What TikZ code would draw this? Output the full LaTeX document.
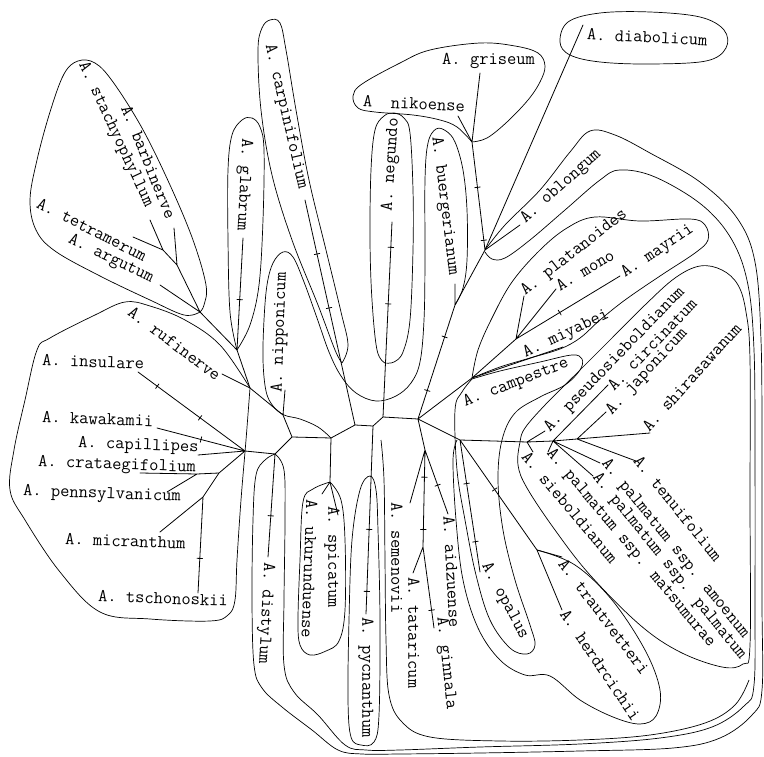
\documentclass[tikz,border=0pt]{standalone}
\usetikzlibrary{calc}
\newcommand{\tkk}[3]{\draw[br] ($(#1)!#3!(#2)!2.8pt!90:(#2)$) -- ($(#1)!#3!(#2)!2.8pt!-90:(#2)$);}
\begin{document}
\begin{tikzpicture}[x=1pt,y=-1pt,
  br/.style={line width=0.8pt, line cap=round, line join=round},
  bd/.style={line width=0.7pt, line join=round},
  lab/.style={font=\fontsize{18}{18}\selectfont\ttfamily, inner sep=0pt, anchor=west}]
\fill[white] (0,0) rectangle (764,757);
\useasboundingbox (0,0) rectangle (764,757);

% ---------- internal nodes ----------
\coordinate (nTS) at (163,250);
\coordinate (nBa) at (177,265);
\coordinate (nArg) at (200,312);
\coordinate (nGl) at (237,350);
\coordinate (nR) at (250,388);
\coordinate (nN) at (283,415);
\coordinate (n1) at (292,437);
\coordinate (nD) at (275,454);
\coordinate (nL) at (245,451);
\coordinate (nCr) at (219,473);
\coordinate (nPe) at (197,474);
\coordinate (nTs) at (203,497);
\coordinate (n2) at (331,438);
\coordinate (nSU) at (330,482);
\coordinate (n3) at (355,425);
\coordinate (n4) at (373,426);
\coordinate (n5) at (383,417);
\coordinate (n6) at (418,419);
\coordinate (nA) at (425,450);
\coordinate (nTG) at (423,547);
\coordinate (nB) at (455,305);
\coordinate (nO) at (485,250);
\coordinate (nG) at (472,142);
\coordinate (n7) at (472,378);
\coordinate (nP) at (516,339);
\coordinate (n8) at (460,440);
\coordinate (nS) at (527,442);
\coordinate (nPa) at (553,441);
\coordinate (nJ) at (577,439);
\coordinate (nT) at (537,550);

% ---------- tips ----------
\coordinate (tBarb) at (174,228);
\coordinate (tStach) at (150,220);
\coordinate (tTetra) at (133,237);
\coordinate (tArgu) at (160,285);
\coordinate (tRufi) at (222,374);
\coordinate (tIns) at (138,372);
\coordinate (tKawa) at (157,428);
\coordinate (tCapi) at (198,455);
\coordinate (tCrat) at (140,473);
\coordinate (tPenn) at (167,492);
\coordinate (tMicr) at (160,532);
\coordinate (tTsch) at (198,593);
\coordinate (tGlab) at (243,238);
\coordinate (tCarp) at (305,200);
\coordinate (tNipp) at (285,390);
\coordinate (tDist) at (268,557);
\coordinate (tUkur) at (322,494);
\coordinate (tSpic) at (338,515);
\coordinate (tPycn) at (366,614);
\coordinate (tNegu) at (392,222);
\coordinate (tBuer) at (455,284);
\coordinate (tGris) at (480,73);
\coordinate (tNiko) at (458,116);
\coordinate (tDiab) at (583,25);
\coordinate (tOblo) at (520,225);
\coordinate (tPlat) at (524,296);
\coordinate (tMono) at (556,289);
\coordinate (tMayr) at (620,276);
\coordinate (tMiya) at (563,347);
\coordinate (tSemen) at (410,503);
\coordinate (tAidz) at (448,514);
\coordinate (tTata) at (413,573);
\coordinate (tGinn) at (434,628);
\coordinate (tOpal) at (480,572);
\coordinate (tTrau) at (562,557);
\coordinate (tHerd) at (562,610);
\coordinate (tSieb) at (533,452);
\coordinate (tPseu) at (545,431);
\coordinate (tCirc) at (608,385);
\coordinate (tJapo) at (606,412);
\coordinate (tShir) at (650,433);
\coordinate (tTenu) at (636,461);
\coordinate (tAmoe) at (600,463);
\coordinate (tPalm) at (593,476);
\coordinate (tMats) at (548,452);

% ---------- tree edges ----------
\draw[br] (nTS) -- (tStach) (nTS) -- (tTetra) (nTS) -- (nBa) (nBa) -- (tBarb) (nBa) -- (nArg)
  (nArg) -- (tArgu) (nArg) -- (nGl) (nGl) -- (tGlab) (nGl) -- (nR) (nR) -- (tRufi) (nR) -- (nN)
  (nN) -- (tNipp) (nN) -- (n1) (n1) -- (nD) (n1) -- (n2) (nD) -- (tDist) (nD) -- (nL)
  (nL) -- (tIns) (nL) -- (tKawa) (nL) -- (tCapi) (nL) -- (nCr) (nCr) -- (nPe) (nPe) -- (tCrat)
  (nPe) -- (tPenn) (nCr) -- (nTs) (nTs) -- (tMicr) (nTs) -- (tTsch)
  (n2) -- (nSU) (nSU) -- (tUkur) (nSU) -- (tSpic) (n2) -- (n3) (n3) -- (tCarp) (n3) -- (n4)
  (n4) -- (tPycn) (n4) -- (n5) (n5) -- (tNegu) (n5) -- (n6)
  (n6) -- (nB) (nB) -- (tBuer) (nB) -- (nO) (nO) -- (tOblo) (nO) -- (tDiab) (nO) -- (nG)
  (nG) -- (tGris) (nG) -- (tNiko)
  (n6) -- (n7) (n7) -- (tMiya) (n7) -- (nP) (nP) -- (tMayr) (nP) -- (tPlat) (nP) -- (tMono)
  (n6) -- (nA) (nA) -- (tSemen) (nA) -- (tAidz) (nA) -- (nTG) (nTG) -- (tTata) (nTG) -- (tGinn)
  (n6) -- (n8) (n8) -- (tOpal) (n8) -- (nT) (nT) -- (tTrau) (nT) -- (tHerd)
  (n8) -- (nS) (nS) -- (tSieb) (nS) -- (tPseu) (nS) -- (nPa)
  (nPa) -- (tCirc) (nPa) -- (tAmoe) (nPa) -- (tPalm) (nPa) -- (tMats) (nPa) -- (nJ)
  (nJ) -- (tJapo) (nJ) -- (tTenu) (nJ) -- (tShir);

% ---------- ticks ----------
\tkk{nL}{tIns}{0.42}\tkk{nL}{tIns}{0.82}
\tkk{n3}{tCarp}{0.52}\tkk{n3}{tCarp}{0.76}
\tkk{n5}{tNegu}{0.58}\tkk{n5}{tNegu}{0.87}
\tkk{nO}{nG}{0.09}\tkk{nO}{nG}{0.58}
\tkk{n6}{nB}{0.25}\tkk{n6}{nB}{0.72}
\tkk{n4}{tPycn}{0.55}\tkk{n4}{tPycn}{0.88}
\tkk{nD}{tDist}{0.6}
\tkk{nTs}{tTsch}{0.64}
\tkk{nP}{tMayr}{0.42}
\tkk{nA}{nTG}{0.28}\tkk{nA}{nTG}{0.82}
\tkk{nTG}{tGinn}{0.78}
\tkk{nA}{tAidz}{0.55}
\tkk{n8}{tOpal}{0.33}\tkk{n8}{tOpal}{0.77}
\tkk{n8}{nT}{0.45}
\tkk{nL}{tKawa}{0.5}
\tkk{nGl}{tGlab}{0.45}

% ---------- enclosing curves ----------
% barbinerve group
\draw[bd] plot[smooth, tension=0.6] coordinates {(200,312) (184,315) (150,300) (100,276) (55,251) (36,230) (30,200) (37,160) (50,112) (64,74) (78,61) (95,63) (113,82) (142,128) (170,185) (193,240) (206,285) (204,305) (200,312)};
% glabrum
\draw[bd] plot[smooth, tension=0.6] coordinates {(237,350) (230,312) (228,240) (228,170) (232,135) (242,120) (252,118) (260,127) (264,150) (263,220) (259,285) (250,325) (237,350)};
% carpinifolium
\draw[bd] plot[smooth, tension=0.6] coordinates {(342,363) (335,350) (318,305) (292,240) (272,175) (261,110) (258,50) (262,28) (270,20) (280,23) (286,50) (296,110) (309,180) (326,250) (341,312) (348,345) (342,363)};
% nipponicum - buergerianum
\draw[bd] plot[smooth, tension=0.6] coordinates {(331,438) (318,427) (300,419) (284,415) (273,406) (266,391) (263,360) (264,320) (267,285) (273,263) (283,252) (293,257) (304,282) (317,318) (329,352) (341,376) (356,393) (376,401) (396,396) (411,383) (420,362) (424,320) (425,260) (425,180) (428,143) (436,129) (446,131) (455,142) (463,170) (467,210) (467,260) (463,288) (455,305)};
% negundo
\draw[bd] plot[smooth, tension=0.6] coordinates {(385,363) (377,350) (372,300) (370,240) (371,170) (375,130) (384,116) (394,113) (404,118) (410,133) (413,190) (413,250) (410,320) (403,352) (394,362) (385,363)};
% griseum - nikoense
\draw[bd] plot[smooth, tension=0.6] coordinates {(472,142) (457,127) (440,120) (413,115) (375,112) (358,108) (353,96) (362,84) (400,63) (430,50) (480,43) (515,46) (538,53) (545,66) (540,82) (528,100) (507,122) (487,138) (472,142)};
% diabolicum
\draw[bd] plot[smooth cycle, tension=0.6] coordinates {(560,42) (568,22) (600,13) (650,12) (700,17) (724,30) (726,48) (706,61) (650,64) (600,62) (570,55)};
% insulare group
\draw[bd] plot[smooth, tension=0.6] coordinates {(250,388) (246,440) (241,500) (237,560) (235,600) (228,615) (210,621) (150,619) (100,612) (60,572) (25,520) (10,490) (14,450) (25,400) (37,350) (50,338) (95,315) (125,302) (150,306) (185,320) (220,345) (250,388)};
% outer band (a)
\draw[bd] plot[smooth, tension=0.6] coordinates {(485,250) (505,225) (540,190) (570,152) (590,131) (615,135) (650,153) (700,182) (737,218) (755,262) (761,340) (762,450) (762,600) (762,690) (752,715) (720,738) (673,748) (580,751) (480,753) (400,754) (362,754) (338,750) (312,730) (282,707) (262,688) (254,665) (252,600) (253,520) (256,475) (265,460) (275,454)};
% inner band (b)
\draw[bd] plot[smooth, tension=0.6] coordinates {(485,252) (492,259) (505,258) (530,240) (565,210) (600,180) (620,170) (655,177) (702,205) (732,240) (748,285) (754,350) (755,450) (755,600) (754,685) (744,706) (712,727) (660,738) (580,744) (480,747) (400,750) (366,750) (345,745) (318,715) (294,692) (284,665) (284,600) (285,520) (284,470) (275,454)};
% curve (c)
\draw[bd] plot[smooth, tension=0.6] coordinates {(381,440) (384,480) (385,560) (386,640) (389,695) (402,722) (430,737) (500,741) (580,740) (650,735) (705,723) (735,705) (749,680)};
% palmatum group
\draw[bd] plot[smooth cycle, tension=0.6] coordinates {(520,442) (518,465) (527,488) (555,530) (590,575) (640,625) (680,652) (722,667) (743,664) (750,645) (750,500) (750,360) (746,312) (738,285) (722,270) (700,266) (675,278) (645,305) (610,340) (575,375) (545,405) (525,428)};
% campestre + opalus
\draw[bd] plot[smooth, tension=0.6] coordinates {(472,379) (500,371) (540,362) (572,355) (582,359) (580,370) (565,385) (540,397) (515,413) (502,440) (498,480) (503,530) (515,580) (530,625) (535,645) (527,654) (510,648) (490,620) (476,575) (465,520) (457,470) (455,410) (462,392) (472,379)};
% trautvetteri - herdrcichii
\draw[bd] plot[smooth, tension=0.6] coordinates {(537,550) (575,565) (612,600) (645,650) (660,690) (656,716) (640,724) (613,717) (580,700) (550,676) (525,675) (500,660) (478,628) (463,580) (456,520) (453,460) (457,440)};
% mayrii group
\draw[bd] plot[smooth, tension=0.6] coordinates {(472,378) (478,350) (492,318) (512,282) (540,250) (567,228) (595,217) (640,221) (690,219) (705,225) (708,240) (695,253) (660,276) (625,300) (600,320) (580,338) (560,349) (530,358) (500,367) (472,378)};
% ukurunduense - spicatum
\draw[bd] plot[smooth, tension=0.6] coordinates {(330,482) (313,489) (303,502) (300,560) (298,620) (300,645) (310,655) (326,651) (339,641) (345,610) (345,540) (341,500) (330,482)};
% pycnanthum
\draw[bd] plot[smooth cycle, tension=0.6] coordinates {(370,476) (360,490) (352,540) (349,620) (348,700) (351,737) (361,745) (374,742) (379,715) (380,620) (378,530) (376,490)};

% ---------- labels ----------
\node[lab, rotate=-68] (lBarb) at (126,106) {A. barbinerve};
\node[lab, rotate=-65] (lStach) at (82,63) {A. stachyophyllum};
\node[lab, rotate=-27] (lTetra) at (38,202) {A. tetramerum};
\node[lab, rotate=-26] (lArgu) at (69,239) {A. argutum};
\node[lab, rotate=-37] (lRufi) at (130,310) {A. rufinerve};
\node[lab, rotate=-2] (lIns) at (42,360) {A. insulare};
\node[lab, rotate=-2] (lKawa) at (42,417) {A. kawakamii};
\node[lab, rotate=-2] (lCapi) at (78,444) {A. capillipes};
\node[lab, rotate=-2] (lCrat) at (38,463) {A. crataegifolium};
\node[lab, rotate=-2] (lPenn) at (23,492) {A. pennsylvanicum};
\node[lab, rotate=-2] (lMicr) at (65,539) {A. micranthum};
\node[lab, rotate=-2] (lTsch) at (98,596) {A. tschonoskii};
\node[lab, rotate=-93] (lGlab) at (246,138) {A. glabrum};
\node[lab, rotate=-77] (lCarp) at (269,44) {A. carpinifolium};
\node[lab, rotate=88] (lNipp) at (278,393) {A. nipponicum};
\node[lab, rotate=86] (lNegu) at (388,211) {A. negundo};
\node[lab, rotate=-83] (lBuer) at (436,137) {A. buergerianum};
\node[lab] (lGris) at (442,61) {A. griseum};
\node[lab, rotate=-3] (lNiko) at (363,101) {A\ \ nikoense};
\node[lab, rotate=-3] (lDiab) at (587,34) {A. diabolicum};
\node[lab, rotate=42] (lOblo) at (523,221) {A. oblongum};
\node[lab, rotate=38] (lPlat) at (523,293) {A. platanoides};
\node[lab, rotate=31] (lMono) at (557,287) {A. mono};
\node[lab, rotate=34] (lMayr) at (623,275) {A. mayrii};
\node[lab, rotate=25] (lMiya) at (524,354) {A. miyabei};
\node[lab, rotate=21] (lCamp) at (464,403) {A. campestre};
\node[lab, rotate=46] (lPseu) at (547,430) {A. pseudosieboldianum};
\node[lab, rotate=46] (lCirc) at (610,388) {A. circinatum};
\node[lab, rotate=47] (lJapo) at (609,413) {A. japonicum};
\node[lab, rotate=48] (lShir) at (645,429) {A. shirasawanum};
\node[lab, rotate=-51] (lTenu) at (637,458) {A. tenuifolium};
\node[lab, rotate=-51] (lAmoe) at (604,461) {A. palmatum ssp. amoenum};
\node[lab, rotate=-51] (lPalm) at (595,475) {A. palmatum ssp. palmatum};
\node[lab, rotate=-50] (lMats) at (549,451) {A. palmatum ssp. matsumurae};
\node[lab, rotate=-50] (lSieb) at (525,454) {A. sieboldianum};
\node[lab, rotate=-53] (lTrau) at (562,561) {A. trautvetteri};
\node[lab, rotate=-56] (lHerd) at (564,611) {A. herdrcichii};
\node[lab, rotate=-62] (lOpal) at (485,564) {A. opalus};
\node[lab, rotate=-90] (lSemen) at (397,502) {A. semenovii};
\node[lab, rotate=-90] (lTata) at (414,577) {A. tataricum};
\node[lab, rotate=-87] (lAidz) at (449,516) {A. aidzuense};
\node[lab, rotate=-84] (lGinn) at (441,617) {A. ginnala};
\node[lab, rotate=-93] (lDist) at (268,562) {A. distylum};
\node[lab, rotate=-92] (lUkur) at (312,499) {A. ukurunduense};
\node[lab, rotate=-90] (lSpic) at (332,506) {A. spicatum};
\node[lab, rotate=-90] (lPycn) at (366,617) {A. pycnanthum};
\end{tikzpicture}
\end{document}
